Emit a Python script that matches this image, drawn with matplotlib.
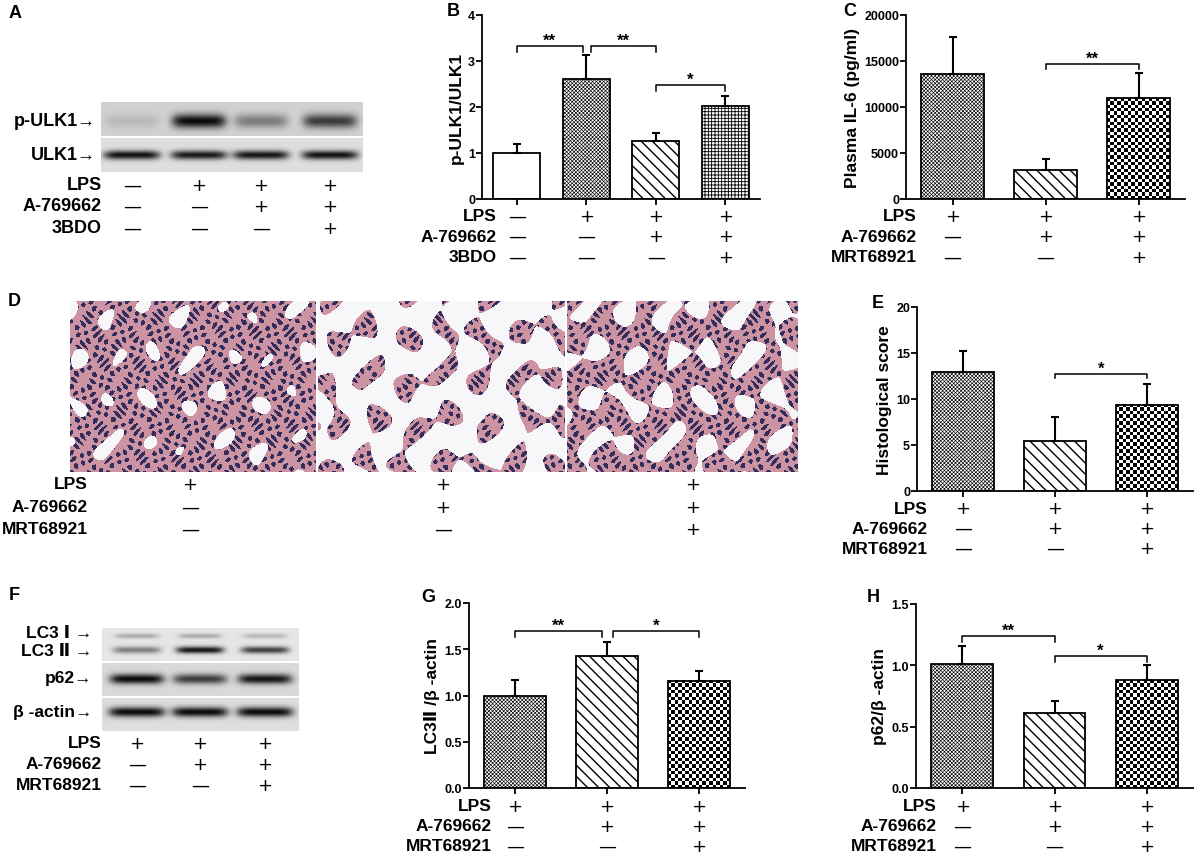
import numpy as np
import matplotlib
matplotlib.use("Agg")
import matplotlib.pyplot as plt
from matplotlib.transforms import blended_transform_factory

plt.rcParams["font.family"] = ["Liberation Sans", "DejaVu Sans"]
plt.rcParams["font.weight"] = "bold"
plt.rcParams["axes.labelweight"] = "bold"

W, H = 1196, 854

# ---- data ----
# B: p-ULK1/ULK1
b_vals = [1.0, 2.6, 1.27, 2.02]
b_tops = [1.2, 3.13, 1.43, 2.25]
# C: plasma IL-6 (pg/ml)
c_vals = [13600, 3200, 10950]
c_tops = [17600, 4300, 13650]
# E: histological score
e_vals = [12.9, 5.4, 9.4]
e_tops = [15.2, 8.0, 11.6]
# G: LC3II/beta-actin
g_vals = [1.0, 1.43, 1.16]
g_tops = [1.17, 1.58, 1.27]
# H: p62/beta-actin
h_vals = [1.01, 0.61, 0.88]
h_tops = [1.16, 0.71, 1.0]

# treatment tables
lps_4 = ["—", "+", "+", "+"]
a769_4 = ["—", "—", "+", "+"]
bdo_4 = ["—", "—", "—", "+"]
lps_3 = ["+", "+", "+"]
a769_3 = ["—", "+", "+"]
mrt_3 = ["—", "—", "+"]

# western blot band intensities (relative darkness)
pulk1_bands = [0.12, 0.95, 0.4, 0.72]
ulk1_bands = [0.92, 0.88, 0.9, 0.92]
lc3i_bands = [0.25, 0.25, 0.2]
lc3ii_bands = [0.45, 0.9, 0.72]
p62_bands = [0.95, 0.72, 0.9]
actin_bands = [0.95, 0.95, 0.95]

# histology: tissue threshold per section (higher = denser tissue)
tissue_level = [1.3, -0.5, 0.55]

fig = plt.figure(figsize=(W / 100, H / 100), dpi=100)


def px_axes(x0, y0, x1, y1):
    return fig.add_axes([x0 / W, 1 - y1 / H, (x1 - x0) / W, (y1 - y0) / H])


def letter(ch, x, y):
    fig.text(x / W, 1 - y / H, ch, ha="center", va="center", fontsize=13)


def sym(x, y, s, transform):
    fig.text(x, y, s, transform=transform, ha="center", va="center",
             fontsize=13, fontweight="normal", family="DejaVu Sans")


def table_px(xs, rows, labels, row_y, label_x, fs=12.5):
    for syms, lab, y in zip(rows, labels, row_y):
        fig.text(label_x / W, 1 - y / H, lab, ha="right", va="center", fontsize=fs)
        for x, s in zip(xs, syms):
            sym(x / W, 1 - y / H, s, fig.transFigure)


patterns = {
    "open": (None, 1.0),
    "fine": ("xxxxxxxxx", 0.45),
    "diag": ("\\\\\\", 1.0),
    "grid": ("+++++", 0.6),
}


def bar_panel(box, vals, tops, pats, ymax, yticks, yticklabels, ylabel,
              brackets, rows, labels, row_y, label_x):
    ax = px_axes(*box)
    n = len(vals)
    xs = np.arange(n)
    w = 0.67
    ax_w = box[2] - box[0]
    ax_h = box[3] - box[1]
    for x, v, p in zip(xs, vals, pats):
        if p == "check":
            nx = max(1, round(w * ax_w / n / 3.4))
            ny = max(1, round(v / ymax * ax_h / 3.4))
            arr = np.indices((ny, nx)).sum(axis=0) % 2
            ax.imshow(arr, cmap="gray", extent=[x - w / 2, x + w / 2, 0, v],
                      aspect="auto", interpolation="nearest", zorder=2)
            ax.bar(x, v, w, facecolor="none", edgecolor="k", lw=1.3, zorder=3)
        else:
            h, hl = patterns[p]
            with plt.rc_context({"hatch.linewidth": hl}):
                ax.bar(x, v, w, facecolor="white", edgecolor="k", hatch=h,
                       lw=1.3, zorder=2)
    err = np.array(tops) - np.array(vals)
    ax.errorbar(xs, vals, yerr=[np.zeros(n), err], fmt="none", ecolor="k",
                elinewidth=1.5, capsize=3.2, capthick=1.5, zorder=4)
    ax.set_xlim(-0.5, n - 0.5)
    ax.set_ylim(0, ymax)
    ax.set_xticks(xs)
    ax.set_xticklabels([])
    ax.set_yticks(yticks)
    ax.set_yticklabels(yticklabels)
    for s in ["top", "right"]:
        ax.spines[s].set_visible(False)
    for s in ["left", "bottom"]:
        ax.spines[s].set_linewidth(1.3)
    ax.tick_params(axis="y", direction="out", length=4, width=1.3,
                   labelsize=9, pad=1)
    ax.tick_params(axis="x", direction="out", length=4, width=1.3)
    ax.set_ylabel(ylabel, fontsize=12.5, labelpad=3)
    for i, j, y, drop, star, di, dj in brackets:
        x1, x2 = i + di, j + dj
        ax.plot([x1, x1, x2, x2], [y - drop, y, y, y - drop], color="k",
                lw=1.1, clip_on=False)
        ax.text((x1 + x2) / 2, y + 0.005 * ymax, star, ha="center",
                va="baseline", fontsize=12)
    tr = blended_transform_factory(ax.transData, fig.transFigure)
    for syms, lab, y in zip(rows, labels, row_y):
        fig.text(label_x / W, 1 - y / H, lab, ha="right", va="center", fontsize=12.5)
        for x, s in zip(xs, syms):
            sym(x, 1 - y / H, s, tr)
    return ax


def blot(box, lanes, strips):
    x0, y0, x1, y1 = box
    img = np.ones((y1 - y0, x1 - x0))
    cols = np.arange(x0, x1) + 0.5
    rows = np.arange(y0, y1) + 0.5
    X, Y = np.meshgrid(cols, rows)
    for top, bot, bg, bands in strips:
        m = (Y >= top) & (Y < bot)
        dark = np.zeros_like(X)
        for yc, hh, hw, amps in bands:
            for lx, a in zip(lanes, amps):
                dark += a * np.exp(-((X - lx) / hw) ** 6) * np.exp(-((Y - yc) / hh) ** 2)
        dark = np.clip(dark, 0, 0.97)
        img[m] = (bg * (1 - dark))[m]
    ax = px_axes(*box)
    ax.imshow(img, cmap="gray", vmin=0, vmax=1, extent=[x0, x1, y1, y0],
              aspect="auto", interpolation="bilinear")
    ax.axis("off")


# ---- A: blot ----
letter("A", 15, 14)
lanes_a = [132, 199, 261, 330]
blot((101, 103, 363, 173), lanes_a, [
    (103, 137, 0.82, [(122, 7, 27, pulk1_bands)]),
    (139, 173, 0.87, [(156, 4.5, 28, ulk1_bands)]),
])
fig.text(96 / W, 1 - 122 / H, "p-ULK1→", ha="right", va="center", fontsize=13)
fig.text(96 / W, 1 - 156 / H, "ULK1→", ha="right", va="center", fontsize=13)
table_px(lanes_a, [lps_4, a769_4, bdo_4], ["LPS", "A-769662", "3BDO"],
         [186, 207, 229], 102, fs=13)

# ---- B ----
letter("B", 453, 12)
bar_panel((482, 16, 760, 200), b_vals, b_tops, ["open", "fine", "diag", "grid"],
          4, [0, 1, 2, 3, 4], ["0", "1", "2", "3", "4"], "p-ULK1/ULK1",
          [(0, 1, 3.33, 0.13, "**", 0, -0.05), (1, 2, 3.33, 0.13, "**", 0.07, 0),
           (2, 3, 2.48, 0.13, "*", 0, 0)],
          [lps_4, a769_4, bdo_4], ["LPS", "A-769662", "3BDO"], [217, 237, 258], 497)

# ---- C ----
letter("C", 850, 12)
bar_panel((906, 16, 1185, 200), c_vals, c_tops, ["fine", "diag", "check"],
          20000, [0, 5000, 10000, 15000, 20000],
          ["0", "5000", "10000", "15000", "20000"], "Plasma IL-6 (pg/ml)",
          [(1, 2, 14670, 550, "**", 0, 0)],
          [lps_3, a769_3, mrt_3], ["LPS", "A-769662", "MRT68921"], [217, 237, 258], 917)

# ---- D: histology ----
letter("D", 14, 302)
hx0, hy0, hx1, hy1 = 70, 302, 798, 473
splits = [(70, 316), (318, 565), (567, 798)]
rgb = np.ones((hy1 - hy0, hx1 - hx0, 3))
for (sx0, sx1), lvl in zip(splits, tissue_level):
    xx, yy = np.meshgrid(np.arange(sx1 - sx0, dtype=float), np.arange(hy1 - hy0, dtype=float))
    xx = xx + sx0 * 1.7
    f = (np.sin(xx / 6.0 + 1.3 * np.sin(yy / 11.0)) + np.sin(yy / 7.0 + 1.1 * np.sin(xx / 13.0))
         + 0.6 * np.sin((xx + yy) / 9.0))
    g = np.sin(xx / 1.9 + 2 * np.sin(yy / 5.0)) * np.sin(yy / 2.1 + 2 * np.sin(xx / 6.0))
    tissue = f < lvl
    nuc = tissue & (g > 0.3)
    sub = np.ones((hy1 - hy0, sx1 - sx0, 3)) * np.array([0.97, 0.97, 0.98])
    sub[tissue] = [0.80, 0.58, 0.64]
    sub[nuc] = [0.20, 0.18, 0.36]
    rgb[:, sx0 - hx0:sx1 - hx0] = sub
axd = px_axes(hx0, hy0, hx1, hy1)
axd.imshow(rgb, extent=[hx0, hx1, hy1, hy0], aspect="auto", interpolation="bilinear")
axd.axis("off")
table_px([190, 443, 693], [lps_3, a769_3, mrt_3], ["LPS", "A-769662", "MRT68921"],
         [485, 508, 530], 88)

# ---- E ----
letter("E", 878, 303)
bar_panel((917, 308, 1193, 492), e_vals, e_tops, ["fine", "diag", "check"],
          20, [0, 5, 10, 15, 20], ["0", "5", "10", "15", "20"], "Histological score",
          [(1, 2, 12.7, 0.45, "*", 0, 0)],
          [lps_3, a769_3, mrt_3], ["LPS", "A-769662", "MRT68921"], [509, 529, 549], 928)

# ---- F: blot ----
letter("F", 14, 596)
lanes_f = [137, 200, 265]
blot((102, 629, 299, 732), lanes_f, [
    (629, 662, 0.9, [(637, 2.5, 22, lc3i_bands), (651, 3.5, 24, lc3ii_bands)]),
    (664, 697, 0.85, [(680, 5, 27, p62_bands)]),
    (699, 732, 0.87, [(713, 5, 28, actin_bands)]),
])
fig.text(92 / W, 1 - 633 / H, "LC3 Ⅰ →", ha="right", va="center", fontsize=12.5)
fig.text(92 / W, 1 - 652 / H, "LC3 Ⅱ →", ha="right", va="center", fontsize=12.5)
fig.text(92 / W, 1 - 679 / H, "p62→", ha="right", va="center", fontsize=12.5)
fig.text(92 / W, 1 - 712 / H, "β -actin→", ha="right", va="center", fontsize=12.5)
table_px(lanes_f, [lps_3, a769_3, mrt_3], ["LPS", "A-769662", "MRT68921"],
         [744, 765, 786], 102)

# ---- G ----
letter("G", 428, 597)
bar_panel((469, 604, 745, 789), g_vals, g_tops, ["fine", "diag", "check"],
          2.0, [0, 0.5, 1.0, 1.5, 2.0], ["0.0", "0.5", "1.0", "1.5", "2.0"],
          "LC3Ⅱ /β -actin",
          [(0, 1, 1.70, 0.07, "**", 0, -0.05), (1, 2, 1.70, 0.07, "*", 0.07, 0)],
          [lps_3, a769_3, mrt_3], ["LPS", "A-769662", "MRT68921"], [807, 827, 847], 492)

# ---- H ----
letter("H", 873, 597)
bar_panel((916, 605, 1193, 789), h_vals, h_tops, ["fine", "diag", "check"],
          1.5, [0, 0.5, 1.0, 1.5], ["0.0", "0.5", "1.0", "1.5"], "p62/β -actin",
          [(0, 1, 1.24, 0.05, "**", 0, 0), (1, 2, 1.076, 0.05, "*", 0, 0)],
          [lps_3, a769_3, mrt_3], ["LPS", "A-769662", "MRT68921"], [807, 827, 847], 937)

fig.savefig("out.png", dpi=100)
